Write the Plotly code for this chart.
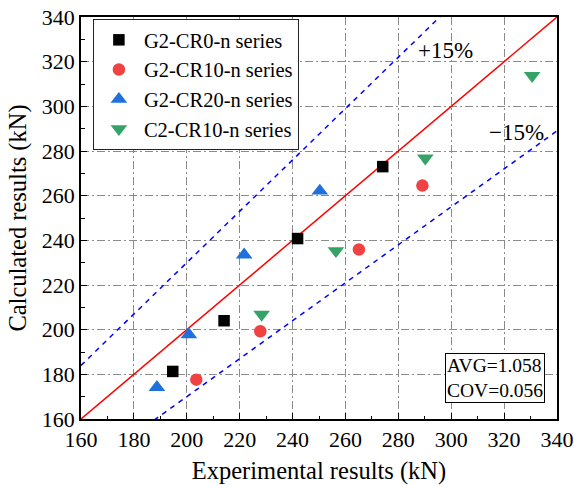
import plotly.graph_objects as go

# Data
cr0_exp = [194.7, 214.1, 241.9, 274.1]
cr0_cal = [181.3, 204.0, 240.8, 273.0]
cr10_exp = [203.6, 227.8, 265.1, 289.1]
cr10_cal = [177.6, 199.3, 235.9, 264.5]
cr20_exp = [188.7, 200.8, 221.7, 250.3]
cr20_cal = [174.2, 197.8, 233.5, 262.1]
c2_exp = [228.3, 256.4, 290.2, 330.6]
c2_cal = [206.8, 235.3, 276.8, 313.7]
ref_x = [160, 340]
upper_factor = 1.15
lower_factor = 0.85
tick_vals = [160, 180, 200, 220, 240, 260, 280, 300, 320, 340]
tick_text = [str(v) for v in tick_vals]

FONT = "Liberation Serif"

fig = go.Figure()

# reference lines
fig.add_trace(go.Scatter(x=ref_x, y=ref_x, mode="lines",
                         line=dict(color="#FF0000", width=1.5), showlegend=False, hoverinfo="skip"))
fig.add_trace(go.Scatter(x=ref_x, y=[v * upper_factor for v in ref_x], mode="lines",
                         line=dict(color="#0000FF", width=1.5, dash="5px,5px"), showlegend=False, hoverinfo="skip"))
fig.add_trace(go.Scatter(x=ref_x, y=[v * lower_factor for v in ref_x], mode="lines",
                         line=dict(color="#0000FF", width=1.5, dash="5px,5px"), showlegend=False, hoverinfo="skip"))

fig.add_trace(go.Scatter(x=cr0_exp, y=cr0_cal, mode="markers", name="G2-CR0-n series",
                         marker=dict(symbol="square", size=11.5, color="#000000")))
fig.add_trace(go.Scatter(x=cr10_exp, y=cr10_cal, mode="markers", name="G2-CR10-n series",
                         marker=dict(symbol="circle", size=12.5, color="#F04242")))
fig.add_trace(go.Scatter(x=cr20_exp, y=cr20_cal, mode="markers", name="G2-CR20-n series",
                         marker=dict(symbol="triangle-up", size=14.5, color="#1E70DC")))
fig.add_trace(go.Scatter(x=c2_exp, y=c2_cal, mode="markers", name="C2-CR10-n series",
                         marker=dict(symbol="triangle-down", size=14.5, color="#36A366")))

# invisible trace on the overlay axes that carry the minor ticks
fig.add_trace(go.Scatter(x=ref_x, y=ref_x, xaxis="x2", yaxis="y2", mode="lines",
                         line=dict(width=0, color="rgba(0,0,0,0)"), showlegend=False, hoverinfo="skip"))

tickfont = dict(family=FONT, size=22, color="#000000")
axis_common = dict(
    range=[160, 340], tickmode="array", tickvals=tick_vals, ticktext=tick_text,
    ticks="inside", ticklen=6, tickwidth=1.2,
    tickcolor="#000000", showline=True, linecolor="#000000", linewidth=1.5, mirror=True,
    showgrid=True, gridcolor="#8C8C8C", gridwidth=1, griddash="8px,3px,2px,3px",
    tickfont=tickfont, ticklabeloverflow="allow",
    zeroline=False, fixedrange=True, automargin=False,
)
minor_common = dict(
    range=[160, 340], tickmode="linear", tick0=160, dtick=10, ticks="inside", ticklen=3.5,
    tickwidth=1.2, tickcolor="#000000", showticklabels=False, showgrid=False,
    showline=False, zeroline=False, fixedrange=True, automargin=False,
)

fig.update_layout(
    xaxis=dict(**axis_common, title=dict(text="Experimental results (kN)",
               font=dict(family=FONT, size=24.5, color="#000000"), standoff=12)),
    yaxis=dict(**axis_common, title=dict(text="Calculated results (kN)",
               font=dict(family=FONT, size=24.5, color="#000000"), standoff=8)),
    xaxis2=dict(**minor_common, overlaying="x", anchor="y", side="bottom"),
    yaxis2=dict(**minor_common, overlaying="y", anchor="x", side="left"),
)

fig.add_annotation(x=297.9, y=325.2, text="+15%", showarrow=False,
                   font=dict(family=FONT, size=23, color="#000000"))
fig.add_annotation(x=324.7, y=288.5, text="\u221215%", showarrow=False,
                   font=dict(family=FONT, size=23, color="#000000"))
fig.add_annotation(xref="paper", yref="paper", x=0.975, y=0.04, xanchor="right", yanchor="bottom",
                   text="AVG=1.058<br>COV=0.056", showarrow=False, align="left",
                   bordercolor="#000000", borderwidth=1, borderpad=1, bgcolor="#FFFFFF",
                   font=dict(family=FONT, size=19.5, color="#000000"))

fig.update_layout(
    width=574, height=485,
    margin=dict(l=81, r=17, t=17, b=66, autoexpand=False),
    paper_bgcolor="#FFFFFF", plot_bgcolor="#FFFFFF",
    showlegend=True,
    legend=dict(x=0.025, y=0.995, xanchor="left", yanchor="top",
                bgcolor="#FFFFFF", bordercolor="#222222", borderwidth=1,
                font=dict(family=FONT, size=20.5, color="#000000"),
                itemwidth=40, tracegroupgap=0),
    font=dict(family=FONT, size=22, color="#000000"),
)

# remove the default 8px page margin so the figure fills the window exactly
fig.write_html("out.html", config={"displayModeBar": False},
               post_script="document.body.style.margin='0';")
